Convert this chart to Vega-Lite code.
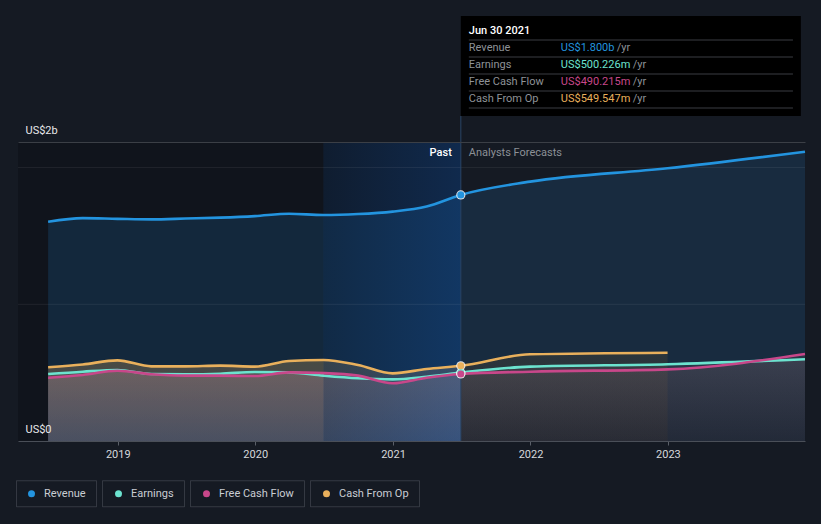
{
  "$schema": "https://vega.github.io/schema/vega-lite/v6.json",
  "width": 787,
  "height": 299,
  "autosize": "none",
  "padding": {"left": 18, "top": 142, "right": 16, "bottom": 83},
  "background": "#151a23",
  "config": {
    "view": {"stroke": null},
    "font": "Roboto",
    "text": {"font": "Roboto"},
    "legend": {"symbolBaseStrokeColor": "#3d424b"}
  },
  "datasets": {
    "fin": [
      {"date": "2018-06-30", "series": "Revenue", "value": 1.604, "period": "past"},
      {"date": "2018-09-30", "series": "Revenue", "value": 1.630, "period": "past"},
      {"date": "2018-12-31", "series": "Revenue", "value": 1.625, "period": "past"},
      {"date": "2019-03-31", "series": "Revenue", "value": 1.621, "period": "past"},
      {"date": "2019-06-30", "series": "Revenue", "value": 1.627, "period": "past"},
      {"date": "2019-09-30", "series": "Revenue", "value": 1.634, "period": "past"},
      {"date": "2019-12-31", "series": "Revenue", "value": 1.645, "period": "past"},
      {"date": "2020-03-31", "series": "Revenue", "value": 1.662, "period": "past"},
      {"date": "2020-06-30", "series": "Revenue", "value": 1.653, "period": "past"},
      {"date": "2020-09-30", "series": "Revenue", "value": 1.660, "period": "past"},
      {"date": "2020-12-31", "series": "Revenue", "value": 1.678, "period": "past"},
      {"date": "2021-03-31", "series": "Revenue", "value": 1.715, "period": "past"},
      {"date": "2021-06-30", "series": "Revenue", "value": 1.800, "period": "now"},
      {"date": "2021-12-31", "series": "Revenue", "value": 1.897, "period": "forecast"},
      {"date": "2022-12-31", "series": "Revenue", "value": 1.995, "period": "forecast"},
      {"date": "2023-12-31", "series": "Revenue", "value": 2.116, "period": "forecast"},
      {"date": "2018-06-30", "series": "Earnings", "value": 0.490, "period": "past"},
      {"date": "2018-09-30", "series": "Earnings", "value": 0.507, "period": "past"},
      {"date": "2018-12-31", "series": "Earnings", "value": 0.519, "period": "past"},
      {"date": "2019-03-31", "series": "Earnings", "value": 0.490, "period": "past"},
      {"date": "2019-06-30", "series": "Earnings", "value": 0.488, "period": "past"},
      {"date": "2019-09-30", "series": "Earnings", "value": 0.492, "period": "past"},
      {"date": "2019-12-31", "series": "Earnings", "value": 0.505, "period": "past"},
      {"date": "2020-03-31", "series": "Earnings", "value": 0.502, "period": "past"},
      {"date": "2020-06-30", "series": "Earnings", "value": 0.478, "period": "past"},
      {"date": "2020-09-30", "series": "Earnings", "value": 0.459, "period": "past"},
      {"date": "2020-12-31", "series": "Earnings", "value": 0.451, "period": "past"},
      {"date": "2021-03-31", "series": "Earnings", "value": 0.470, "period": "past"},
      {"date": "2021-06-30", "series": "Earnings", "value": 0.500, "period": "now"},
      {"date": "2021-12-31", "series": "Earnings", "value": 0.544, "period": "forecast"},
      {"date": "2022-12-31", "series": "Earnings", "value": 0.561, "period": "forecast"},
      {"date": "2023-12-31", "series": "Earnings", "value": 0.598, "period": "forecast"},
      {"date": "2018-06-30", "series": "Free Cash Flow", "value": 0.463, "period": "past"},
      {"date": "2018-09-30", "series": "Free Cash Flow", "value": 0.483, "period": "past"},
      {"date": "2018-12-31", "series": "Free Cash Flow", "value": 0.514, "period": "past"},
      {"date": "2019-03-31", "series": "Free Cash Flow", "value": 0.488, "period": "past"},
      {"date": "2019-06-30", "series": "Free Cash Flow", "value": 0.478, "period": "past"},
      {"date": "2019-09-30", "series": "Free Cash Flow", "value": 0.478, "period": "past"},
      {"date": "2019-12-31", "series": "Free Cash Flow", "value": 0.475, "period": "past"},
      {"date": "2020-03-31", "series": "Free Cash Flow", "value": 0.502, "period": "past"},
      {"date": "2020-06-30", "series": "Free Cash Flow", "value": 0.497, "period": "past"},
      {"date": "2020-09-30", "series": "Free Cash Flow", "value": 0.478, "period": "past"},
      {"date": "2020-12-31", "series": "Free Cash Flow", "value": 0.422, "period": "past"},
      {"date": "2021-03-31", "series": "Free Cash Flow", "value": 0.463, "period": "past"},
      {"date": "2021-06-30", "series": "Free Cash Flow", "value": 0.490, "period": "now"},
      {"date": "2021-12-31", "series": "Free Cash Flow", "value": 0.507, "period": "forecast"},
      {"date": "2022-12-31", "series": "Free Cash Flow", "value": 0.524, "period": "forecast"},
      {"date": "2023-12-31", "series": "Free Cash Flow", "value": 0.636, "period": "forecast"},
      {"date": "2018-06-30", "series": "Cash From Op", "value": 0.539, "period": "past"},
      {"date": "2018-09-30", "series": "Cash From Op", "value": 0.560, "period": "past"},
      {"date": "2018-12-31", "series": "Cash From Op", "value": 0.590, "period": "past"},
      {"date": "2019-03-31", "series": "Cash From Op", "value": 0.546, "period": "past"},
      {"date": "2019-06-30", "series": "Cash From Op", "value": 0.546, "period": "past"},
      {"date": "2019-09-30", "series": "Cash From Op", "value": 0.551, "period": "past"},
      {"date": "2019-12-31", "series": "Cash From Op", "value": 0.544, "period": "past"},
      {"date": "2020-03-31", "series": "Cash From Op", "value": 0.585, "period": "past"},
      {"date": "2020-06-30", "series": "Cash From Op", "value": 0.593, "period": "past"},
      {"date": "2020-09-30", "series": "Cash From Op", "value": 0.556, "period": "past"},
      {"date": "2020-12-31", "series": "Cash From Op", "value": 0.495, "period": "past"},
      {"date": "2021-03-31", "series": "Cash From Op", "value": 0.527, "period": "past"},
      {"date": "2021-06-30", "series": "Cash From Op", "value": 0.550, "period": "now"},
      {"date": "2021-12-31", "series": "Cash From Op", "value": 0.634, "period": "forecast"},
      {"date": "2022-12-31", "series": "Cash From Op", "value": 0.646, "period": "forecast"}
    ],
    "tip": [
      {"label": "Jun 30 2021", "kind": "header"},
      {"label": "Revenue", "value": "US$1.800b", "series": "Revenue", "kind": "row"},
      {"label": "Earnings", "value": "US$500.226m", "series": "Earnings", "kind": "row"},
      {"label": "Free Cash Flow", "value": "US$490.215m", "series": "Free Cash Flow", "kind": "row"},
      {"label": "Cash From Op", "value": "US$549.547m", "series": "Cash From Op", "kind": "row"}
    ],
    "grid": [{"v": 1}, {"v": 2}]
  },
  "layer": [
    {
      "data": {"name": "fin"},
      "encoding": {
        "x": {
          "field": "date", "type": "temporal", "title": null,
          "scale": {"type": "utc", "domain": [{"year": 2018, "month": 4, "date": 11, "utc": true}, {"year": 2023, "month": 12, "date": 31, "utc": true}]},
          "axis": {
            "values": [
              {"year": 2019, "month": 1, "date": 1, "utc": true},
              {"year": 2020, "month": 1, "date": 1, "utc": true},
              {"year": 2021, "month": 1, "date": 1, "utc": true},
              {"year": 2022, "month": 1, "date": 1, "utc": true},
              {"year": 2023, "month": 1, "date": 1, "utc": true}
            ],
            "format": "%Y", "grid": false, "labelColor": "#d6d8dc", "labelFontSize": 11, "labelFont": "Roboto",
            "tickColor": "#5a5f68", "tickSize": 4, "labelPadding": 3, "domainColor": "#4a4f58", "domainWidth": 1, "zindex": 1
          }
        },
        "y": {
          "field": "value", "type": "quantitative", "title": null, "stack": null,
          "scale": {"domain": [0, 2.187], "nice": false},
          "axis": {
            "values": [0, 2.187],
            "labelExpr": "datum.value == 0 ? 'US$0' : 'US$2b'",
            "labelAlign": "left", "labelBaseline": "bottom", "labelPadding": -7, "labelOffset": -7,
            "ticks": false, "tickSize": 0, "domain": false,
            "labelColor": "#e8e8ea", "labelFontSize": 11, "labelFont": "Roboto",
            "grid": true, "zindex": 1,
            "gridColor": {"condition": {"test": "datum.value == 0", "value": "transparent"}, "value": "#3b3f46"}
          }
        }
      },
      "layer": [
        {
          "mark": {"type": "line", "interpolate": "monotone", "strokeWidth": 1, "color": "#3d424b"},
          "encoding": {
            "strokeDash": {"field": "series", "type": "nominal", "sort": ["Revenue", "Earnings", "Free Cash Flow", "Cash From Op"],
              "scale": {"range": [[1, 0], [1, 0], [1, 0], [1, 0]]},
              "legend": {"title": null, "orient": "none", "legendX": 8, "legendY": 346, "direction": "horizontal",
                "symbolType": "circle", "symbolSize": 49, "symbolStrokeWidth": 1, "symbolStrokeColor": "#3d424b", "symbolFillColor": "transparent",
                "labelColor": "#c9cdd3", "labelOpacity": 0, "labelFontSize": 11, "labelOffset": 7, "columnPadding": 1,
                "encode": {"symbols": {"update": {
                  "shape": {"signal": "datum.value == 'Revenue' ? 'M-4.286,-3.714H18.571V3.714H-4.286Z' : datum.value == 'Earnings' ? 'M-4.286,-3.714H19.143V3.714H-4.286Z' : datum.value == 'Free Cash Flow' ? 'M-4.286,-3.714H28.286V3.714H-4.286Z' : 'M-4.286,-3.714H26.857V3.714H-4.286Z'"},
                  "stroke": {"value": "#3d424b"},
                  "fill": {"value": "transparent"},
                  "strokeWidth": {"value": 1},
                  "opacity": {"value": 1}
                }}}
              }
            }
          }
        },
        {
          "transform": [{"filter": "datum.series == 'Revenue' && datum.period != 'forecast'"}],
          "mark": {"type": "area", "interpolate": "monotone", "color": "#18324b"}
        },
        {
          "transform": [{"filter": "datum.series == 'Revenue' && datum.period != 'past'"}],
          "mark": {"type": "area", "interpolate": "monotone", "color": "#182b3f"}
        },
        {
          "transform": [{"filter": "datum.series == 'Cash From Op' && datum.period != 'forecast'"}],
          "mark": {"type": "area", "interpolate": "monotone", "fillOpacity": 0.5,
            "fill": {"gradient": "linear", "x1": 0, "y1": 0, "x2": 0, "y2": 1, "stops": [{"offset": 0, "color": "#a08a60"}, {"offset": 1, "color": "#75768a"}]}}
        },
        {
          "transform": [{"filter": "datum.series == 'Earnings' && datum.period != 'forecast'"}],
          "mark": {"type": "area", "interpolate": "monotone", "fillOpacity": 0.2,
            "fill": {"gradient": "linear", "x1": 0, "y1": 0, "x2": 0, "y2": 1, "stops": [{"offset": 0, "color": "#90a898"}, {"offset": 1, "color": "#75768a"}]}}
        },
        {
          "transform": [{"filter": "datum.series == 'Free Cash Flow' && datum.period != 'forecast'"}],
          "mark": {"type": "area", "interpolate": "monotone", "fillOpacity": 0.35,
            "fill": {"gradient": "linear", "x1": 0, "y1": 0, "x2": 0, "y2": 1, "stops": [{"offset": 0, "color": "#c890a0"}, {"offset": 1, "color": "#75768a"}]}}
        },
        {
          "transform": [{"filter": "datum.series == 'Cash From Op' && datum.period != 'past'"}],
          "mark": {"type": "area", "interpolate": "monotone", "fillOpacity": 0.3,
            "fill": {"gradient": "linear", "x1": 0, "y1": 0, "x2": 0, "y2": 1, "stops": [{"offset": 0, "color": "#5a4d33"}, {"offset": 1, "color": "#3a3530"}]}}
        },
        {
          "transform": [{"filter": "datum.series == 'Earnings' && datum.period != 'past'"}],
          "mark": {"type": "area", "interpolate": "monotone", "fillOpacity": 0.2,
            "fill": {"gradient": "linear", "x1": 0, "y1": 0, "x2": 0, "y2": 1, "stops": [{"offset": 0, "color": "#78646c"}, {"offset": 1, "color": "#36282c"}]}}
        },
        {
          "transform": [{"filter": "datum.series == 'Free Cash Flow' && datum.period != 'past'"}],
          "mark": {"type": "area", "interpolate": "monotone", "fillOpacity": 0.2,
            "fill": {"gradient": "linear", "x1": 0, "y1": 0, "x2": 0, "y2": 1, "stops": [{"offset": 0, "color": "#78646c"}, {"offset": 1, "color": "#36282c"}]}}
        },
        {
          "transform": [{"filter": "datum.series == 'Revenue' && datum.period == 'now'"}],
          "mark": {"type": "rect", "color": "#000000", "opacity": 0.2},
          "encoding": {
            "x": {"datum": {"year": 2018, "month": 4, "date": 11, "utc": true}, "type": "temporal"},
            "x2": {"datum": {"year": 2020, "month": 6, "date": 30, "utc": true}},
            "y": null
          }
        },
        {
          "transform": [{"filter": "datum.series == 'Revenue' && datum.period == 'now'"}],
          "mark": {"type": "rect", "fillOpacity": 0.45,
            "fill": {"gradient": "linear", "x1": 0, "y1": 0, "x2": 1, "y2": 0, "stops": [{"offset": 0, "color": "#08203f"}, {"offset": 1, "color": "#0a3d80"}]}},
          "encoding": {
            "x": {"datum": {"year": 2020, "month": 6, "date": 30, "utc": true}, "type": "temporal"},
            "x2": {"datum": {"year": 2021, "month": 6, "date": 30, "utc": true}},
            "y": null
          }
        },
        {
          "data": {"name": "grid"},
          "mark": {"type": "rule", "color": "#ffffff", "opacity": 0.07, "strokeWidth": 1},
          "encoding": {"x": null, "y": {"field": "v", "type": "quantitative"}}
        },
        {
          "transform": [{"filter": "datum.series == 'Revenue' && datum.period == 'now'"}],
          "mark": {"type": "rule", "color": "#2a4566", "strokeWidth": 1, "yOffset": -26},
          "encoding": {
            "y": {"datum": 2.187, "type": "quantitative"},
            "y2": {"datum": 0}
          }
        },
        {
          "transform": [{"filter": "datum.series == 'Revenue'"}],
          "mark": {"type": "line", "interpolate": "monotone", "strokeWidth": 2.6, "color": "#2394df"}
        },
        {
          "transform": [{"filter": "datum.series == 'Earnings'"}],
          "mark": {"type": "line", "interpolate": "monotone", "strokeWidth": 2.6, "color": "#6ce3cf"}
        },
        {
          "transform": [{"filter": "datum.series == 'Free Cash Flow'"}],
          "mark": {"type": "line", "interpolate": "monotone", "strokeWidth": 2.6, "color": "#c8478a"}
        },
        {
          "transform": [{"filter": "datum.series == 'Cash From Op'"}],
          "mark": {"type": "line", "interpolate": "monotone", "strokeWidth": 2.6, "color": "#e9b05c"}
        },
        {
          "transform": [{"filter": "datum.period == 'now'"}],
          "mark": {"type": "circle", "size": 85, "color": "#ffffff", "opacity": 0.85}
        },
        {
          "transform": [{"filter": "datum.period == 'now'"}],
          "mark": {"type": "circle", "size": 50, "opacity": 1},
          "encoding": {
            "color": {"field": "series", "type": "nominal",
              "scale": {"domain": ["Revenue", "Earnings", "Free Cash Flow", "Cash From Op"], "range": ["#2394df", "#6ce3cf", "#c8478a", "#e9b05c"]},
              "legend": {"title": null, "orient": "none", "legendX": 8, "legendY": 346, "direction": "horizontal",
                "symbolType": "circle", "symbolSize": 49, "symbolStrokeWidth": 1,
                "labelColor": "#c9cdd3", "labelFontSize": 11, "labelOffset": 7, "columnPadding": 27,
                "encode": {"symbols": {"update": {"stroke": {"value": "transparent"}}}}}
            }
          }
        },
        {
          "transform": [{"filter": "datum.series == 'Revenue' && datum.period == 'now'"}],
          "mark": {"type": "text", "text": "Past", "align": "right", "baseline": "middle", "dx": -9, "dy": 11, "fontSize": 11, "fontWeight": 500, "color": "#ffffff"},
          "encoding": {
            "y": {"datum": 2.187, "type": "quantitative"}
          }
        },
        {
          "transform": [{"filter": "datum.series == 'Revenue' && datum.period == 'now'"}],
          "mark": {"type": "text", "text": "Analysts Forecasts", "align": "left", "baseline": "middle", "dx": 8, "dy": 11, "fontSize": 11, "color": "#8c9096"},
          "encoding": {
            "y": {"datum": 2.187, "type": "quantitative"}
          }
        },
        {
          "transform": [{"filter": "datum.series == 'Revenue' && datum.period == 'now'"}],
          "mark": {"type": "rect", "color": "#000000", "yOffset": -126, "y2Offset": -26},
          "encoding": {
            "x2": {"datum": {"year": 2023, "month": 12, "date": 20, "utc": true}},
            "y": {"datum": 2.187, "type": "quantitative"},
            "y2": {"datum": 2.187}
          }
        }
      ]
    },
    {
      "data": {"name": "tip"},
      "encoding": {
        "y": {"field": "label", "type": "ordinal", "axis": null,
          "scale": {"type": "point", "domain": ["Jun 30 2021", "Revenue", "Earnings", "Free Cash Flow", "Cash From Op"], "range": [-111, -43], "padding": 0}},
        "x": {"datum": {"year": 2021, "month": 6, "date": 30, "utc": true}, "type": "temporal"}
      },
      "layer": [
        {
          "mark": {"type": "rule", "color": "#3a3d43", "strokeWidth": 1, "yOffset": 9, "xOffset": 8},
          "encoding": {"x2": {"datum": {"year": 2023, "month": 11, "date": 29, "utc": true}}}
        },
        {
          "transform": [{"filter": "datum.kind == 'header'"}],
          "mark": {"type": "text", "align": "left", "baseline": "middle", "dx": 8, "fontSize": 11, "fontWeight": 500, "color": "#ffffff"},
          "encoding": {"text": {"field": "label"}}
        },
        {
          "transform": [{"filter": "datum.kind == 'row'"}],
          "mark": {"type": "text", "align": "left", "baseline": "middle", "dx": 8, "fontSize": 11, "color": "#8e9297"},
          "encoding": {"text": {"field": "label"}}
        },
        {
          "transform": [{"filter": "datum.kind == 'row'"}],
          "mark": {"type": "text", "align": "left", "baseline": "middle", "dx": 100, "fontSize": 11},
          "encoding": {
            "text": {"field": "value"},
            "fill": {"field": "series", "type": "nominal", "legend": null,
              "scale": {"domain": ["Revenue", "Earnings", "Free Cash Flow", "Cash From Op"], "range": ["#2394df", "#6ce3cf", "#c8478a", "#e9b05c"]}}
          }
        },
        {
          "transform": [{"filter": "datum.series == 'Revenue'"}],
          "mark": {"type": "text", "text": "/yr", "align": "left", "baseline": "middle", "dx": 156, "fontSize": 11, "color": "#8e9297"}
        },
        {
          "transform": [{"filter": "datum.kind == 'row' && datum.series != 'Revenue'"}],
          "mark": {"type": "text", "text": "/yr", "align": "left", "baseline": "middle", "dx": 172, "fontSize": 11, "color": "#8e9297"}
        }
      ]
    }
  ],
  "resolve": {"scale": {"y": "independent"}}
}
